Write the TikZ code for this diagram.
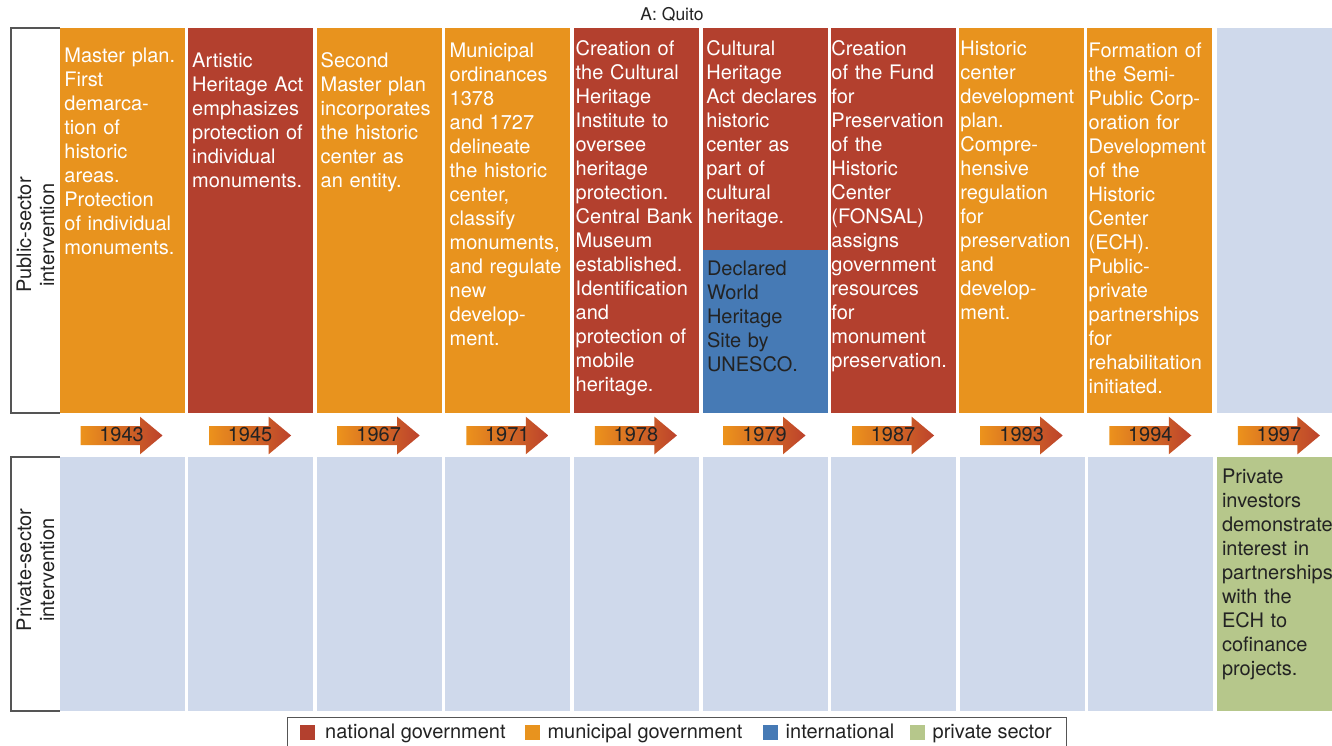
\documentclass[tikz,border=0pt]{standalone}
\usepackage{fontspec}
\setmainfont{TeX Gyre Heros}
\definecolor{natred}{RGB}{179,64,46}
\definecolor{munor}{RGB}{232,147,30}
\definecolor{intbl}{RGB}{70,122,181}
\definecolor{privgr}{RGB}{182,199,139}
\definecolor{emptyc}{RGB}{207,217,235}
\definecolor{darktxt}{RGB}{35,35,35}
\definecolor{framec}{RGB}{85,85,85}
\definecolor{arrowl}{RGB}{236,146,28}
\definecolor{arrowr}{RGB}{188,66,44}
\begin{document}
\begin{tikzpicture}[x=1pt,y=-1pt,
  cell/.style={anchor=north west, inner sep=0pt, outer sep=0pt, minimum width=125pt, draw=none},
  toprow/.style={cell, minimum height=385pt},
  botrow/.style={cell, minimum height=254pt, fill=emptyc},
  ctext/.style={anchor=north west, inner sep=0pt, text width=140pt, align=left, font=\fontsize{20}{24}\selectfont, text=white},
  dtext/.style={ctext, text=darktxt},
  yearlab/.style={inner sep=0pt, font=\fontsize{20}{24}\selectfont, text=darktxt},
  sidelab/.style={rotate=90, align=center, inner sep=0pt, font=\fontsize{20}{23}\selectfont, text=darktxt},
  sidebox/.style={draw=framec, line width=1.1pt},
  legsq/.style={anchor=north west, inner sep=0pt, minimum size=15pt},
  legtxt/.style={anchor=base west, inner sep=0pt, font=\fontsize{20}{24}\selectfont, text=darktxt}
]
\useasboundingbox (0,0) rectangle (1332,746);
\fill[white] (0,0) rectangle (1332,746);

% title
\node[anchor=base, inner sep=0pt, font=\fontsize{17.5}{21}\selectfont, text=darktxt] (title) at (672,20.7) {A: Quito};

% side label boxes
\draw[sidebox] (60,28) -- (11,28) -- (11,413) -- (60,413);
\draw[sidebox] (60,457) -- (11,457) -- (11,711) -- (60,711);
\node[sidelab] (publab) at (35.5,235) {Public-sector\\intervention};
\node[sidelab] (privlab) at (35.5,570) {Private-sector\\intervention};

% top row cells
\node[toprow, fill=munor]  (p1) at (59.5,28) {};
\node[toprow, fill=natred] (p2) at (188.1,28) {};
\node[toprow, fill=munor]  (p3) at (316.7,28) {};
\node[toprow, fill=munor]  (p4) at (445.3,28) {};
\node[toprow, fill=natred] (p5) at (573.9,28) {};
\node[cell, minimum height=222pt, fill=natred] (p6) at (702.5,28) {};
\node[cell, minimum height=163pt, fill=intbl] (p6b) at (702.5,250) {};
\node[toprow, fill=natred] (p7) at (830.5,28) {};
\node[toprow, fill=munor]  (p8) at (958.6,28) {};
\node[toprow, fill=munor]  (p9) at (1087.3,28) {};
\node[toprow, fill=emptyc] (p10) at (1216.9,28) {};

% bottom row cells
\foreach \i in {1,...,9}{
  \node[botrow] (b\i) at ({59.5+128.6*(\i-1)},457) {};
}
\node[cell, minimum height=254pt, fill=privgr] (b10) at (1216.9,457) {};

% top texts
\node[ctext] (t1) at (64.2,45.2) {\strut Master plan.\\First\\demarca-\\tion of\\historic\\areas.\\Protection\\of individual\\monuments.};
\node[ctext] (t2) at (192,50.2) {\strut Artistic\\Heritage Act\\emphasizes\\protection of\\individual\\monuments.};
\node[ctext] (t3) at (320.5,50.2) {\strut Second\\Master plan\\incorporates\\the historic\\center as\\an entity.};
\node[ctext] (t4) at (449.5,40.2) {\strut Municipal\\ordinances\\1378\\and 1727\\delineate\\the historic\\center,\\classify\\monuments,\\and regulate\\new\\develop-\\ment.};
\node[ctext] (t5) at (575.5,38.7) {\strut Creation of\\the Cultural\\Heritage\\Institute to\\oversee\\heritage\\protection.\\Central Bank\\Museum\\established.\\Identification\\and\\protection of\\mobile\\heritage.};
\node[ctext] (t6) at (706.2,38.7) {\strut Cultural\\Heritage\\Act declares\\historic\\center as\\part of\\cultural\\heritage.};
\node[dtext] (t6b) at (706.8,258.2) {\strut Declared\\World\\Heritage\\Site by\\UNESCO.};
\node[ctext] (t7) at (831.2,38.7) {\strut Creation\\of the Fund\\for\\Preservation\\of the\\Historic\\Center\\(FONSAL)\\assigns\\government\\resources\\for\\monument\\preservation.};
\node[ctext] (t8) at (960.2,38.7) {\strut Historic\\center\\development\\plan.\\Compre-\\hensive\\regulation\\for\\preservation\\and\\develop-\\ment.};
\node[ctext] (t9) at (1088.5,40.2) {\strut Formation of\\the Semi-\\Public Corp-\\oration for\\Development\\of the\\Historic\\Center\\(ECH).\\Public-\\private\\partnerships\\for\\rehabilitation\\initiated.};
\node[dtext] (t10) at (1221.8,466.2) {\strut Private\\investors\\demonstrate\\interest in\\partnerships\\with the\\ECH to\\cofinance\\projects.};

% year arrows
\foreach \i/\yr in {1/1943,2/1945,3/1967,4/1971,5/1978,6/1979,7/1987,8/1993,9/1994,10/1997}{
  \pgfmathsetmacro\L{59.5+128.6*(\i-1)}
  \shade[left color=arrowl, right color=arrowr]
    ({\L+21},426) -- ({\L+80.5},426) -- ({\L+80.5},416.7) -- ({\L+103},435.5)
    -- ({\L+80.5},454.3) -- ({\L+80.5},445) -- ({\L+21},445) -- cycle;
  \node[yearlab] (y\yr) at ({\L+62},434.5) {\yr};
}

% legend
\node[draw=framec, line width=1.1pt, anchor=north west, inner sep=0pt, minimum width=779pt, minimum height=30pt] (legend) at (287,717) {};
\node[legsq, fill=natred] (lq1) at (300,724.5) {};
\node[legtxt] (lt1) at (325,738.3) {national government};
\node[legsq, fill=munor] (lq2) at (524.3,724.5) {};
\node[legtxt] (lt2) at (547.3,738.3) {municipal government};
\node[legsq, fill=intbl] (lq3) at (762.3,724.5) {};
\node[legtxt] (lt3) at (785.5,738.3) {international};
\node[legsq, fill=privgr] (lq4) at (909.3,724.5) {};
\node[legtxt] (lt4) at (932.5,738.3) {private sector};
\end{tikzpicture}
\end{document}
